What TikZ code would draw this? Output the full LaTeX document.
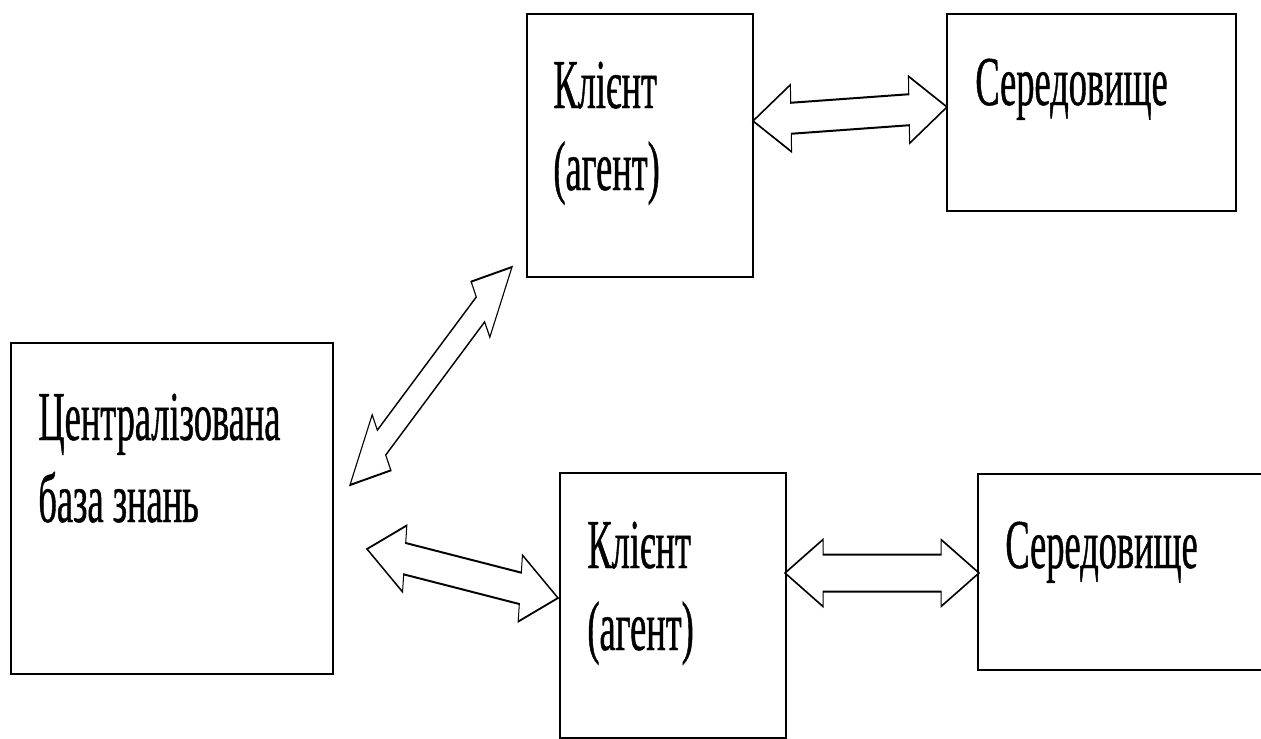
\documentclass[tikz,border=0pt]{standalone}
\usepackage{fontspec}
\setmainfont{Liberation Serif}
\newfontfamily\labfont{Liberation Serif}[FakeStretch=0.52, FakeBold=0.6]
\usetikzlibrary{calc}

\tikzset{
  box/.style={draw, line width=1pt, rectangle, inner sep=0pt, outer sep=0pt},
  lab/.style={anchor=base west, inner sep=0pt, font=\labfont\fontsize{35}{41}\selectfont},
  hollow/.style={draw, line width=1pt, fill=white, line join=miter},
}

% two text lines, the first one giving the baseline
\newcommand\twolines[2]{\vtop{\baselineskip=41pt\hbox{#1}\hbox{#2}}}

% hollow double-headed block arrow between points #1 and #2, shaft half width #3
\newcommand\dblarrow[3]{%
  \coordinate (h1) at ($(#1)!38pt!(#2)$);
  \coordinate (h2) at ($(#2)!38pt!(#1)$);
  \draw[hollow] (#1)
    -- ($(h1)!16.75pt!90:(#2)$) -- ($(h1)!#3!90:(#2)$)
    -- ($(h2)!#3!-90:(#1)$) -- ($(h2)!16.75pt!-90:(#1)$)
    -- (#2)
    -- ($(h2)!16.75pt!90:(#1)$) -- ($(h2)!#3!90:(#1)$)
    -- ($(h1)!#3!-90:(#2)$) -- ($(h1)!16.75pt!-90:(#2)$)
    -- cycle;
}

\begin{document}
\begin{tikzpicture}[x=0.5pt, y=-0.5pt]
  \useasboundingbox (0,0) rectangle (1261,738);
  \clip (0,0) rectangle (1261,738);

  % boxes
  \node[box, minimum width=161pt, minimum height=165.5pt] (kb) at (172,508.5) {};
  \node[box, minimum width=113pt, minimum height=131.5pt] (c1) at (640,145.5) {};
  \node[box, minimum width=144.5pt, minimum height=98.5pt] (e1) at (1091.5,112.5) {};
  \node[box, minimum width=113pt, minimum height=132.5pt] (c2) at (673,605.5) {};
  \node[box, minimum width=156pt, minimum height=98pt] (e2) at (1134,572) {};

  % labels
  \node[lab] (kbt) at (38,440) {\twolines{Централізована}{база знань}};
  \node[lab] (c1t) at (553,108) {\twolines{Клієнт}{(агент)}};
  \node[lab] (e1t) at (975,105) {Середовище};
  \node[lab] (c2t) at (587,568) {\twolines{Клієнт}{(агент)}};
  \node[lab] (e2t) at (1005,568) {Середовище};

  % arrows, drawn in the unsquished frame and narrowed to the page
  \begin{scope}[transform canvas={xscale=0.5}, x=1pt]
    \coordinate (a1) at (753,121);  \coordinate (b1) at (947,107);
    \coordinate (a2) at (350,485);  \coordinate (b2) at (512,267);
    \coordinate (a3) at (367,549);  \coordinate (b3) at (558,598);
    \coordinate (a4) at (785,573);  \coordinate (b4) at (979,573);
    \dblarrow{a1}{b1}{7.75pt}
    \dblarrow{a2}{b2}{7.5pt}
    \dblarrow{a3}{b3}{7.9pt}
    \dblarrow{a4}{b4}{9.25pt}
  \end{scope}
\end{tikzpicture}
\end{document}
